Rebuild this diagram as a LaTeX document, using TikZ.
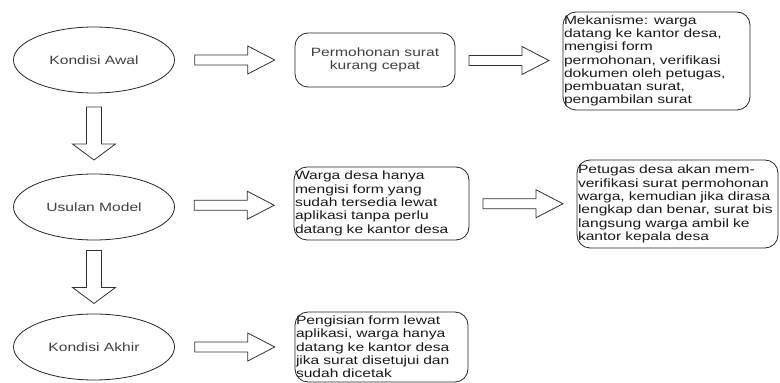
\documentclass[tikz,border=0pt]{standalone}
\usepackage{fontspec}
\setmainfont{Liberation Sans}[FakeStretch=1.3]
\usetikzlibrary{shapes.geometric, calc}

\begin{document}
\begin{tikzpicture}[x=1pt, y=1pt,
    keadaan/.style={ellipse, draw=black!85, line width=0.8pt, minimum width=161pt, minimum height=66pt, inner sep=0pt, text=black!75, font=\fontsize{12}{13.3}\selectfont},
    kotak/.style={rectangle, rounded corners=13pt, draw=black!85, line width=0.8pt, inner sep=1pt, align=left, text=black!90, font=\fontsize{12}{13.3}\selectfont},
    panahkanan/.pic={\draw[draw=black!80, line width=0.8pt, fill=white] (-40,-5) -- (13,-5) -- (13,-14) -- (40,0) -- (13,14) -- (13,5) -- (-40,5) -- cycle;},
    panahbawah/.pic={\draw[draw=black!80, line width=0.8pt, fill=white] (-7.5,26.5) -- (-7.5,-10.5) -- (-21.5,-10.5) -- (0,-26.5) -- (21.5,-10.5) -- (7.5,-10.5) -- (7.5,26.5) -- cycle;}]
        \useasboundingbox (0,0) rectangle (780,383);

        % Draw nodes
        \node[keadaan] (awal) at (94,323) {Kondisi Awal};
        \node[keadaan] (usulan) at (94,176) {Usulan Model};
        \node[keadaan] (akhir) at (94,36) {Kondisi Akhir};

        \node[kotak, align=center, text=black!75, minimum width=160pt, minimum height=54pt] (lambat) at (375,323) {Permohonan surat\\kurang cepat};
        \node[kotak, text width=185pt, minimum height=98pt] (mekanisme) at (656.5,322) {Mekanisme: warga\\datang ke kantor desa,\\mengisi form\\permohonan, verifikasi\\dokumen oleh petugas,\\pembuatan surat,\\pengambilan surat};
        \node[kotak, text width=173pt, minimum height=73pt] (online) at (381.5,179.5) {Warga desa hanya\\mengisi form yang\\sudah tersedia lewat\\aplikasi tanpa perlu\\datang ke kantor desa};
        \node[kotak, text width=199pt, minimum height=88pt] (verifikasi) at (677.5,179) {Petugas desa akan mem-\\verifikasi surat permohonan\\warga, kemudian jika dirasa\\lengkap dan benar, surat bis\\langsung warga ambil ke\\kantor kepala desa};
        \node[kotak, text width=171pt, minimum height=70pt] (hasil) at (381.5,36) {Pengisian form lewat\\aplikasi, warga hanya\\datang ke kantor desa\\jika surat disetujui dan\\sudah dicetak};

        % Draw connections
        \pic at ($(awal.east)!0.5!(lambat.west)$) {panahkanan};
        \pic at ($(lambat.east)!0.5!(mekanisme.west)$) {panahkanan};
        \pic at ($(usulan.east)!0.5!(online.west)$) {panahkanan};
        \pic at ($(online.east)!0.5!(verifikasi.west)$) {panahkanan};
        \pic at ($(akhir.east)!0.5!(hasil.west)$) {panahkanan};
        \pic at ($(awal.south)!0.5!(usulan.north)$) {panahbawah};
        \pic at ($(usulan.south)!0.5!(akhir.north)$) {panahbawah};
    \end{tikzpicture}
\end{document}
